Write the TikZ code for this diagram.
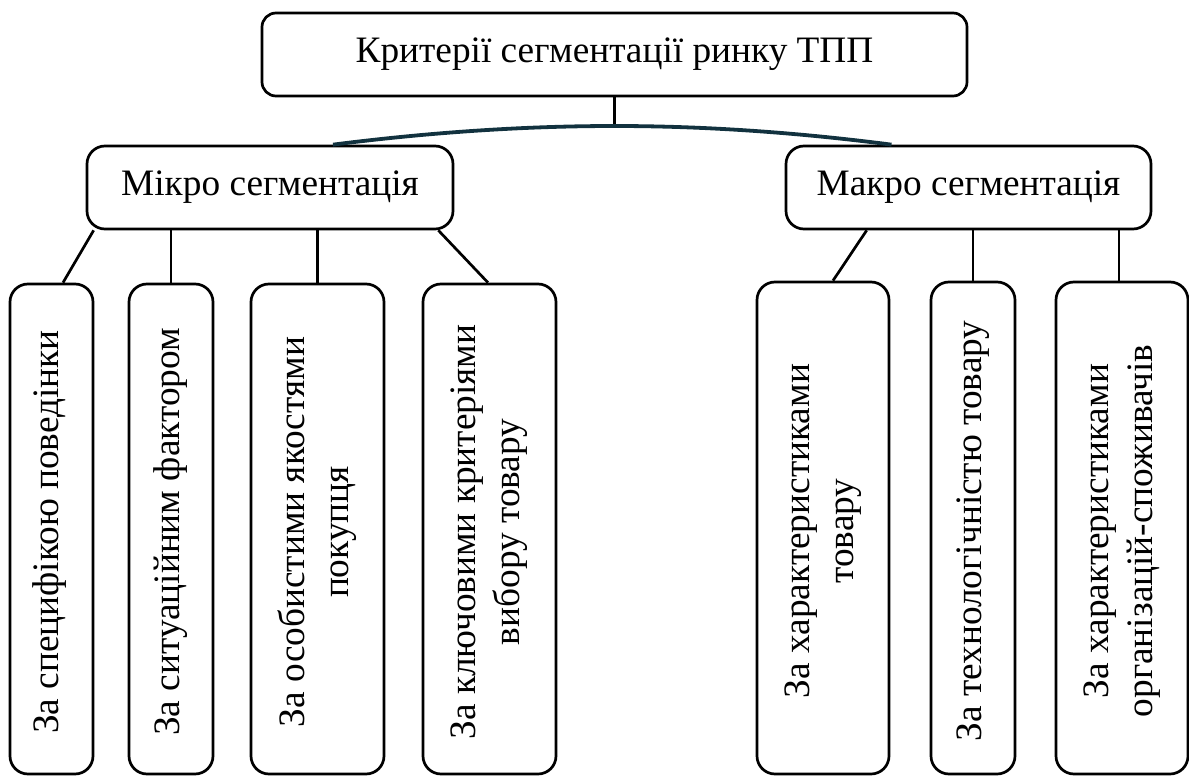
\documentclass[tikz,border=0pt]{standalone}
\usepackage{fontspec}
\setmainfont{Liberation Serif}
\usetikzlibrary{calc}
\definecolor{arccol}{HTML}{12323F}
\tikzset{
  box/.style={draw=black, line width=2.7pt, rounded corners=18pt, fill=white, inner sep=0pt},
  headtext/.style={font=\fontsize{37.3}{43}\selectfont, inner sep=0pt},
  vtext/.style={font=\fontsize{37.3}{44}\selectfont, rotate=90, align=center, inner sep=0pt},
  conn/.style={draw=black, line width=2.7pt},
}
\begin{document}
\begin{tikzpicture}[x=1pt,y=-1pt]
\useasboundingbox (0,0) rectangle (1189,776);
\clip (0,0) rectangle (1189,776);
% top level
\node[box, minimum width=705pt, minimum height=83pt, rounded corners=14pt] (top) at (614.5,54.5) {};
\node[headtext] (toptext) at (top.center) {Критерії сегментації ринку ТПП};
% second level
\node[box, minimum width=366pt, minimum height=83pt] (mikro) at (270,187.5) {};
\node[headtext] (mikrotext) at (mikro.center) {Мікро сегментація};
\node[box, minimum width=365pt, minimum height=83pt] (makro) at (968.5,187.5) {};
\node[headtext] (makrotext) at (makro.center) {Макро сегментація};
% third level boxes
\node[box, minimum width=83pt, minimum height=490pt] (b1) at (51.5,529) {};
\node[box, minimum width=84pt, minimum height=490pt] (b2) at (171,529) {};
\node[box, minimum width=133pt, minimum height=490pt] (b3) at (317.5,529) {};
\node[box, minimum width=133pt, minimum height=490pt] (b4) at (489.5,529) {};
\node[box, minimum width=132pt, minimum height=492pt] (b5) at (823,528) {};
\node[box, minimum width=84pt, minimum height=492pt] (b6) at (973,528) {};
\node[box, minimum width=132pt, minimum height=492pt] (b7) at (1122,528) {};
% texts
\node[vtext] (t1) at ($(b1.center)+(-2,3)$) {За специфікою поведінки};
\node[vtext] (t2) at ($(b2.center)+(0,3)$) {За ситуаційним фактором};
\node[vtext] (t3) at ($(b3.center)+(0,3)$) {За особистими якостями\\покупця};
\node[vtext] (t4) at ($(b4.center)+(0,3)$) {За ключовими критеріями\\вибору товару};
\node[vtext] (t5) at ($(b5.center)+(0,3)$) {За характеристиками\\товару};
\node[vtext] (t6) at ($(b6.center)+(0,3)$) {За технологічністю товару};
\node[vtext] (t7) at ($(b7.center)+(0,3)$) {За характеристиками\\організацій-споживачів};
% connectors
\coordinate (peak) at (614.5,126);
\coordinate (arcL) at ([xshift=63pt]mikro.north);
\coordinate (arcR) at ([xshift=-77pt]makro.north);
\draw[conn] (top.south) -- (peak);
\draw[draw=arccol, line width=3.8pt] (arcL) .. controls (427,132.7) and (521,126) .. (peak) .. controls (707,126) and (799,132.7) .. (arcR);
\draw[conn] ([xshift=8pt]mikro.south west) -- ([xshift=11.5pt]b1.north);
\draw[conn] (b2.north) -- (b2.north |- mikro.south);
\draw[conn] (b3.north) -- (b3.north |- mikro.south);
\draw[conn] ([xshift=-16pt]mikro.south east) -- ([xshift=-1.5pt]b4.north);
\draw[conn] ([xshift=82pt]makro.south west) -- ([xshift=10pt]b5.north);
\draw[conn] (b6.north) -- (b6.north |- makro.south);
\draw[conn] ([xshift=-3pt]b7.north) -- ([xshift=-3pt]b7.north |- makro.south);
\end{tikzpicture}
\end{document}
